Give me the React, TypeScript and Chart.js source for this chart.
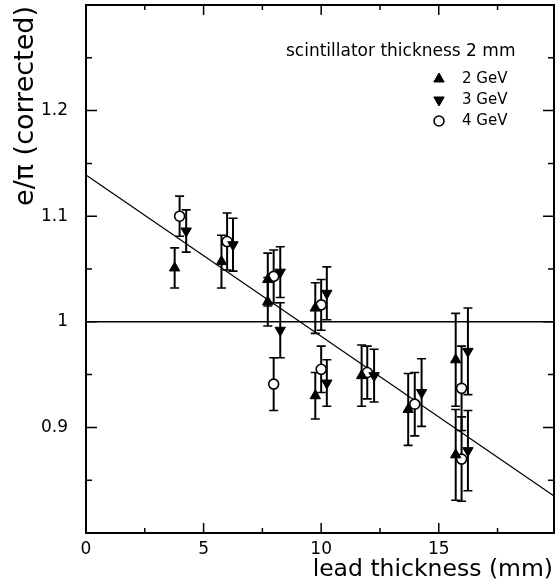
import { useEffect, useRef } from "react";
import { Chart, registerables } from "chart.js";
import { drawPoint } from "chart.js/helpers";

Chart.register(...registerables);

// Axis ranges
const X_MIN = 0;
const X_MAX = 19.9;
const Y_MIN = 0.8;
const Y_MAX = 1.3;

// Tick positions and labels
const xMajorTicks = [0, 5, 10, 15];
const xMinorTicks = [2.5, 7.5, 12.5, 17.5];
const xTickText = ["0", "5", "10", "15"];
const yMajorTicks = [0.9, 1, 1.1, 1.2];
const yMinorTicks = [0.85, 0.95, 1.05, 1.15, 1.25];
const yTickText = ["0.9", "1", "1.1", "1.2"];

// 2 GeV
const lead2 = [3.77, 5.76, 7.73, 7.73, 9.75, 9.75, 11.72, 13.7, 15.72, 15.72];
const ratio2 = [1.051, 1.057, 1.04, 1.019, 1.013, 0.93, 0.949, 0.917, 0.964, 0.874];
const err2 = [0.019, 0.025, 0.025, 0.023, 0.024, 0.022, 0.029, 0.034, 0.044, 0.043];

// 3 GeV
const lead3 = [4.26, 6.25, 8.26, 8.26, 10.24, 10.24, 12.25, 14.27, 16.24, 16.24];
const ratio3 = [1.086, 1.073, 1.047, 0.992, 1.027, 0.942, 0.949, 0.933, 0.972, 0.878];
const err3 = [0.02, 0.025, 0.024, 0.026, 0.025, 0.022, 0.025, 0.032, 0.041, 0.038];

// 4 GeV
const lead4 = [3.98, 6.0, 7.98, 7.98, 10.0, 10.0, 11.96, 13.98, 15.97, 15.97];
const ratio4 = [1.1, 1.076, 1.043, 0.941, 1.016, 0.955, 0.952, 0.922, 0.937, 0.87];
const err4 = [0.019, 0.027, 0.025, 0.025, 0.024, 0.022, 0.025, 0.03, 0.04, 0.04];

// Reference line at unity and the linear fit
const unityX = [0, 19.9];
const unityY = [1, 1];
const fitX = [0, 19.9];
const fitY = [1.139, 0.835];

const seriesLabels = ["2 GeV", "3 GeV", "4 GeV"];
const legendTitle = "scintillator thickness 2 mm";
const xTitle = "lead thickness (mm)";
const yTitle = "e/\u03c0 (corrected)";

const FONT = '"DejaVu Sans", sans-serif';
const INK = "#000";

const toPoints = (xs: number[], ys: number[]) => xs.map((x, i) => ({ x, y: ys[i] }));

const markerStyles = [
  { pointStyle: "triangle", rotation: 0, radius: 6, fill: INK, border: INK, borderWidth: 1 },
  { pointStyle: "triangle", rotation: 180, radius: 6, fill: INK, border: INK, borderWidth: 1 },
  { pointStyle: "circle", rotation: 0, radius: 5, fill: "#fff", border: INK, borderWidth: 1.6 },
];

const nearIndex = (list: number[], v: number) => list.findIndex((t) => Math.abs(t - v) < 1e-6);

const zeroPadding = (scale: any) => {
  scale.paddingLeft = 0;
  scale.paddingRight = 0;
  scale.paddingTop = 0;
  scale.paddingBottom = 0;
};

const errorBarsPlugin = {
  id: "errorBars",
  beforeDatasetsDraw(chart: any) {
    const { ctx, scales } = chart;
    const x = scales.x;
    const y = scales.y;
    ctx.save();
    ctx.strokeStyle = INK;
    chart.data.datasets.forEach((ds: any) => {
      const errs: number[] | undefined = ds.errors;
      if (!errs) return;
      ds.data.forEach((p: any, j: number) => {
        const px = x.getPixelForValue(p.x);
        const lo = y.getPixelForValue(p.y - errs[j]);
        const hi = y.getPixelForValue(p.y + errs[j]);
        ctx.lineWidth = 2;
        ctx.beginPath();
        ctx.moveTo(px, lo);
        ctx.lineTo(px, hi);
        ctx.stroke();
        ctx.lineWidth = 1.6;
        ctx.beginPath();
        ctx.moveTo(px - 4.5, lo);
        ctx.lineTo(px + 4.5, lo);
        ctx.moveTo(px - 4.5, hi);
        ctx.lineTo(px + 4.5, hi);
        ctx.stroke();
      });
    });
    ctx.restore();
  },
};

const framePlugin = {
  id: "frame",
  afterDraw(chart: any) {
    const { ctx, chartArea, scales } = chart;
    const { left, right, top, bottom } = chartArea;
    const x = scales.x;
    const y = scales.y;
    ctx.save();
    ctx.strokeStyle = INK;
    ctx.fillStyle = INK;

    // frame
    ctx.lineWidth = 2;
    ctx.strokeRect(left, top, right - left, bottom - top);

    // inward ticks on all four sides
    ctx.lineWidth = 1.5;
    ctx.beginPath();
    const xTick = (v: number, len: number) => {
      const px = x.getPixelForValue(v);
      ctx.moveTo(px, bottom);
      ctx.lineTo(px, bottom - len);
      ctx.moveTo(px, top);
      ctx.lineTo(px, top + len);
    };
    const yTick = (v: number, len: number) => {
      const py = y.getPixelForValue(v);
      ctx.moveTo(left, py);
      ctx.lineTo(left + len, py);
      ctx.moveTo(right, py);
      ctx.lineTo(right - len, py);
    };
    xMajorTicks.forEach((v) => xTick(v, 10));
    xMinorTicks.forEach((v) => xTick(v, 5));
    yMajorTicks.forEach((v) => yTick(v, 11));
    yMinorTicks.forEach((v) => yTick(v, 6));
    ctx.stroke();

    // axis titles
    ctx.font = `23.5px ${FONT}`;
    ctx.textAlign = "right";
    ctx.textBaseline = "alphabetic";
    ctx.fillText(xTitle, 553, 576);

    ctx.save();
    ctx.translate(33, 106);
    ctx.rotate(-Math.PI / 2);
    ctx.font = `27px ${FONT}`;
    ctx.textAlign = "center";
    ctx.fillText(yTitle, 0, 0);
    ctx.restore();

    // legend
    ctx.font = `17px ${FONT}`;
    ctx.textAlign = "left";
    ctx.fillText(legendTitle, 286, 56);
    ctx.font = `15px ${FONT}`;
    ctx.textBaseline = "middle";
    seriesLabels.forEach((label, i) => {
      const cy = 79 + i * 21;
      const m = markerStyles[i];
      ctx.fillStyle = m.fill;
      ctx.strokeStyle = m.border;
      ctx.lineWidth = m.borderWidth;
      drawPoint(ctx, { pointStyle: m.pointStyle as any, rotation: m.rotation, radius: m.radius, borderWidth: m.borderWidth }, 439, cy);
      ctx.fillStyle = INK;
      ctx.fillText(label, 462, cy);
    });
    ctx.restore();
  },
};

export default function App() {
  const canvasRef = useRef<HTMLCanvasElement | null>(null);

  useEffect(() => {
    const canvas = canvasRef.current;
    if (!canvas) return;

    const errSets = [err2, err3, err4];
    const pointSets = [toPoints(lead2, ratio2), toPoints(lead3, ratio3), toPoints(lead4, ratio4)];

    const markerDatasets = pointSets.map((data, i) => {
      const m = markerStyles[i];
      return {
        type: "scatter" as const,
        label: seriesLabels[i],
        data,
        errors: errSets[i],
        pointStyle: m.pointStyle,
        rotation: m.rotation,
        pointRadius: m.radius,
        pointBackgroundColor: m.fill,
        pointBorderColor: m.border,
        pointBorderWidth: m.borderWidth,
        showLine: false,
      };
    });

    const chart = new Chart(canvas, {
      type: "scatter",
      data: {
        datasets: [
          ...markerDatasets,
          {
            type: "line" as const,
            label: "fit",
            data: toPoints(fitX, fitY),
            borderColor: INK,
            borderWidth: 1.2,
            pointRadius: 0,
            fill: false,
          },
          {
            type: "line" as const,
            label: "unity",
            data: toPoints(unityX, unityY),
            borderColor: INK,
            borderWidth: 1.6,
            pointRadius: 0,
            fill: false,
          },
        ] as any,
      },
      options: {
        responsive: false,
        animation: false,
        events: [],
        layout: { autoPadding: false, padding: { left: 0, top: 5, right: 1, bottom: 0 } },
        plugins: {
          legend: { display: false },
          tooltip: { enabled: false },
        },
        scales: {
          x: {
            type: "linear",
            min: X_MIN,
            max: X_MAX,
            grid: { display: false, drawTicks: false },
            border: { display: false },
            ticks: {
              stepSize: 5,
              padding: 6,
              color: INK,
              font: { family: FONT, size: 17 },
              maxRotation: 0,
              autoSkip: false,
              callback: (v: any) => {
                const k = nearIndex(xMajorTicks, Number(v));
                return k >= 0 ? xTickText[k] : "";
              },
            },
            afterFit: (scale: any) => {
              scale.height = 51;
              zeroPadding(scale);
            },
          },
          y: {
            type: "linear",
            min: Y_MIN,
            max: Y_MAX,
            grid: { display: false, drawTicks: false },
            border: { display: false },
            ticks: {
              stepSize: 0.1,
              padding: 18,
              color: INK,
              font: { family: FONT, size: 17 },
              autoSkip: false,
              callback: (v: any) => {
                const k = nearIndex(yMajorTicks, Number(v));
                return k >= 0 ? yTickText[k] : "";
              },
            },
            afterFit: (scale: any) => {
              scale.width = 86;
              zeroPadding(scale);
            },
          },
        },
      },
      plugins: [errorBarsPlugin, framePlugin],
    });

    return () => chart.destroy();
  }, []);

  return (
    <div style={{ position: "absolute", left: 0, top: 0, width: 555, height: 584, background: "#fff" }}>
      <canvas ref={canvasRef} width={555} height={584} />
    </div>
  );
}
